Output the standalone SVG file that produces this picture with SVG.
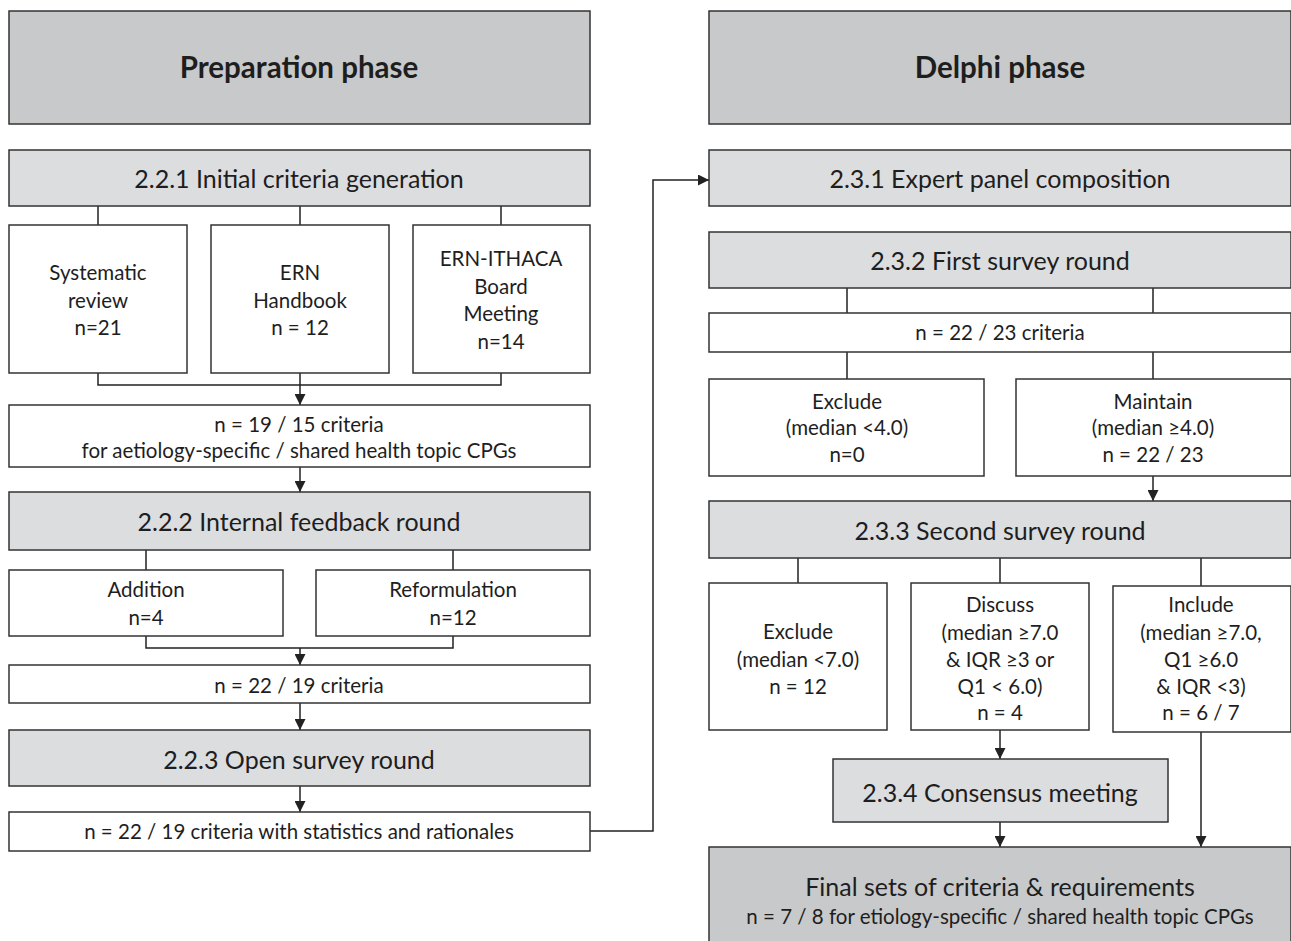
<svg xmlns="http://www.w3.org/2000/svg" width="1291" height="941" viewBox="0 0 1291 941">
<style>
  .hdr { fill: #c8c9ca; stroke: #333; stroke-width: 1.5; }
  .sec { fill: #dcddde; stroke: #333; stroke-width: 1.5; }
  .box { fill: #ffffff; stroke: #333; stroke-width: 1.5; }
  .fin { fill: #c8c9ca; stroke: #333; stroke-width: 1.5; }
  text { font-family: Lato, "Liberation Sans", sans-serif; fill: #1e1e1e; text-anchor: middle; }
  .th { font-size: 29.5px; font-weight: bold; }
  .ts { font-size: 25px; }
  .tb { font-size: 20.5px; }
  .conn { fill: none; stroke: #222; stroke-width: 1.5; }
</style>
<defs>
  <marker id="arr" viewBox="0 0 10 10" refX="10" refY="5" markerWidth="11" markerHeight="11" markerUnits="userSpaceOnUse" orient="auto">
    <path d="M0,0 L10,5 L0,10 z" fill="#222"/>
  </marker>
</defs>

<g id="connectors">
  <path class="conn" d="M98 206 V225 M300 206 V225 M501 206 V225"/>
  <path class="conn" d="M98 373 V385 H501 V373"/>
  <path class="conn" d="M300 373 V405" marker-end="url(#arr)"/>
  <path class="conn" d="M300 467 V492" marker-end="url(#arr)"/>
  <path class="conn" d="M146 550 V570 M453 550 V570"/>
  <path class="conn" d="M146 636 V648 H453 V636"/>
  <path class="conn" d="M300 648 V665" marker-end="url(#arr)"/>
  <path class="conn" d="M300 703 V730" marker-end="url(#arr)"/>
  <path class="conn" d="M300 786 V812" marker-end="url(#arr)"/>
  <path class="conn" d="M590 831 H653 V180 H709" marker-end="url(#arr)"/>
  <path class="conn" d="M847 288 V313 M1153 288 V313 M847 352 V379 M1153 352 V379"/>
  <path class="conn" d="M1153 476 V501" marker-end="url(#arr)"/>
  <path class="conn" d="M798 558 V583 M1000 558 V583 M1201 558 V586"/>
  <path class="conn" d="M1000 730 V759" marker-end="url(#arr)"/>
  <path class="conn" d="M1000 822 V847" marker-end="url(#arr)"/>
  <path class="conn" d="M1201 732 V847" marker-end="url(#arr)"/>
</g>

<g id="prep-header">
  <rect class="hdr" x="9" y="11" width="581" height="113"/>
  <text class="th" x="299" y="78">Preparation phase</text>
</g>
<g id="s221">
  <rect class="sec" x="9" y="150" width="581" height="56"/>
  <text class="ts" x="299" y="188">2.2.1 Initial criteria generation</text>
</g>
<g id="sysrev">
  <rect class="box" x="9" y="225" width="178" height="148"/>
  <text class="tb" x="98" y="280">Systematic</text>
  <text class="tb" x="98" y="308">review</text>
  <text class="tb" x="98" y="335">n=21</text>
</g>
<g id="ernhb">
  <rect class="box" x="211" y="225" width="178" height="148"/>
  <text class="tb" x="300" y="280">ERN</text>
  <text class="tb" x="300" y="308">Handbook</text>
  <text class="tb" x="300" y="335">n = 12</text>
</g>
<g id="ithaca">
  <rect class="box" x="413" y="225" width="177" height="148"/>
  <text class="tb" x="501" y="266">ERN-ITHACA</text>
  <text class="tb" x="501" y="294">Board</text>
  <text class="tb" x="501" y="321">Meeting</text>
  <text class="tb" x="501" y="349">n=14</text>
</g>
<g id="n1915">
  <rect class="box" x="9" y="405" width="581" height="62"/>
  <text class="tb" x="299" y="432">n = 19 / 15 criteria</text>
  <text class="tb" x="299" y="458">for aetiology-specific / shared health topic CPGs</text>
</g>
<g id="s222">
  <rect class="sec" x="9" y="492" width="581" height="58"/>
  <text class="ts" x="299" y="531">2.2.2 Internal feedback round</text>
</g>
<g id="addition">
  <rect class="box" x="9" y="570" width="274" height="66"/>
  <text class="tb" x="146" y="597">Addition</text>
  <text class="tb" x="146" y="625">n=4</text>
</g>
<g id="reform">
  <rect class="box" x="316" y="570" width="274" height="66"/>
  <text class="tb" x="453" y="597">Reformulation</text>
  <text class="tb" x="453" y="625">n=12</text>
</g>
<g id="n2219">
  <rect class="box" x="9" y="665" width="581" height="38"/>
  <text class="tb" x="299" y="693">n = 22 / 19 criteria</text>
</g>
<g id="s223">
  <rect class="sec" x="9" y="730" width="581" height="56"/>
  <text class="ts" x="299" y="769">2.2.3 Open survey round</text>
</g>
<g id="n2219stats">
  <rect class="box" x="9" y="812" width="581" height="39"/>
  <text class="tb" x="299" y="839">n = 22 / 19 criteria with statistics and rationales</text>
</g>

<g id="delphi-header">
  <rect class="hdr" x="709" y="11" width="582" height="113"/>
  <text class="th" x="1000" y="78">Delphi phase</text>
</g>
<g id="s231">
  <rect class="sec" x="709" y="150" width="582" height="56"/>
  <text class="ts" x="1000" y="188">2.3.1 Expert panel composition</text>
</g>
<g id="s232">
  <rect class="sec" x="709" y="232" width="582" height="56"/>
  <text class="ts" x="1000" y="270">2.3.2 First survey round</text>
</g>
<g id="n2223">
  <rect class="box" x="709" y="313" width="582" height="39"/>
  <text class="tb" x="1000" y="340">n = 22 / 23 criteria</text>
</g>
<g id="exclude1">
  <rect class="box" x="709" y="379" width="275" height="97"/>
  <text class="tb" x="847" y="409">Exclude</text>
  <text class="tb" x="847" y="435">(median &lt;4.0)</text>
  <text class="tb" x="847" y="462">n=0</text>
</g>
<g id="maintain">
  <rect class="box" x="1016" y="379" width="275" height="97"/>
  <text class="tb" x="1153" y="409">Maintain</text>
  <text class="tb" x="1153" y="435">(median ≥4.0)</text>
  <text class="tb" x="1153" y="462">n = 22 / 23</text>
</g>
<g id="s233">
  <rect class="sec" x="709" y="501" width="582" height="57"/>
  <text class="ts" x="1000" y="540">2.3.3 Second survey round</text>
</g>
<g id="exclude2">
  <rect class="box" x="709" y="583" width="178" height="147"/>
  <text class="tb" x="798" y="639">Exclude</text>
  <text class="tb" x="798" y="667">(median &lt;7.0)</text>
  <text class="tb" x="798" y="694">n = 12</text>
</g>
<g id="discuss">
  <rect class="box" x="911" y="583" width="178" height="147"/>
  <text class="tb" x="1000" y="612">Discuss</text>
  <text class="tb" x="1000" y="640">(median ≥7.0</text>
  <text class="tb" x="1000" y="667">&amp; IQR ≥3 or</text>
  <text class="tb" x="1000" y="694">Q1 &lt; 6.0)</text>
  <text class="tb" x="1000" y="720">n = 4</text>
</g>
<g id="include">
  <rect class="box" x="1113" y="586" width="178" height="146"/>
  <text class="tb" x="1201" y="612">Include</text>
  <text class="tb" x="1201" y="640">(median ≥7.0,</text>
  <text class="tb" x="1201" y="667">Q1 ≥6.0</text>
  <text class="tb" x="1201" y="694">&amp; IQR &lt;3)</text>
  <text class="tb" x="1201" y="720">n = 6 / 7</text>
</g>
<g id="s234">
  <rect class="sec" x="833" y="759" width="335" height="63"/>
  <text class="ts" x="1000" y="802">2.3.4 Consensus meeting</text>
</g>
<g id="final">
  <rect class="fin" x="709" y="847" width="582" height="100"/>
  <text class="ts" x="1000" y="896">Final sets of criteria &amp; requirements</text>
  <text class="tb" x="1000" y="924">n = 7 / 8 for etiology-specific / shared health topic CPGs</text>
</g>
</svg>
